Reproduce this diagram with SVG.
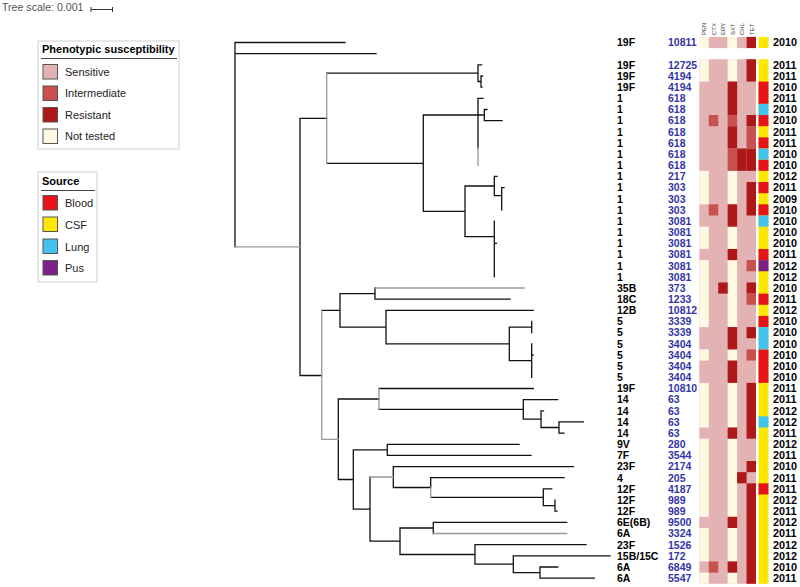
<svg xmlns="http://www.w3.org/2000/svg" width="800" height="587" viewBox="0 0 800 587">
<style>
.sero{font-family:"Liberation Sans",Arial,sans-serif;font-weight:bold;font-size:10.5px;fill:#000}
.st{font-family:"Liberation Sans",Arial,sans-serif;font-weight:bold;font-size:10.5px;fill:#3535a8}
.yr{font-family:"Liberation Sans",Arial,sans-serif;font-weight:bold;font-size:10.8px;fill:#000}
.hdr{font-family:"Liberation Sans",Arial,sans-serif;font-size:6px;fill:#333}
.lt{font-family:"Liberation Sans",Arial,sans-serif;font-weight:bold;font-size:11px;fill:#000}
.li{font-family:"Liberation Sans",Arial,sans-serif;font-size:11px;fill:#222}
.box{fill:#fff;stroke:#cfcfcf;stroke-width:1}
.sw{stroke:#555;stroke-width:1}
.S{fill:#e3b3b3}.I{fill:#c8504f}.R{fill:#af1818}.N{fill:#fff9e3}
.B{fill:#e8121a}.C{fill:#ffe800}.L{fill:#45c3ef}.P{fill:#7b2086}
.blk{fill:none;stroke:#111;stroke-width:1.3;stroke-linecap:square}
.gry{fill:none;stroke:#999;stroke-width:1.3;stroke-linecap:square}
</style>

<g id="tree-scale">
<text x="2" y="11" font-family="Liberation Sans, Arial, sans-serif" font-size="10.6" fill="#555">Tree scale: 0.001</text>
<path d="M91 9.5H112.5M91 7V12M112.5 7V12" fill="none" stroke="#333" stroke-width="1"/>
</g>

<g id="legend-susceptibility">
<rect class="box" x="38" y="41" width="141" height="108"/>
<text class="lt" x="42" y="53">Phenotypic susceptibility</text>
<line x1="41" y1="58.5" x2="177" y2="58.5" stroke="#444" stroke-width="1.2"/>
<rect class="sw S" x="43" y="64.5" width="14.5" height="14.5"/>
<text class="li" x="65" y="75.5">Sensitive</text>
<rect class="sw I" x="43" y="86" width="14.5" height="14.5"/>
<text class="li" x="65" y="97">Intermediate</text>
<rect class="sw R" x="43" y="107.5" width="14.5" height="14.5"/>
<text class="li" x="65" y="118.5">Resistant</text>
<rect class="sw N" x="43" y="129" width="14.5" height="14.5"/>
<text class="li" x="65" y="140">Not tested</text>
</g>

<g id="legend-source">
<rect class="box" x="38" y="172" width="59" height="110"/>
<text class="lt" x="42" y="185">Source</text>
<line x1="41" y1="190.5" x2="95" y2="190.5" stroke="#444" stroke-width="1.2"/>
<rect class="sw B" x="43" y="195.5" width="14.5" height="14.5"/>
<text class="li" x="65" y="207">Blood</text>
<rect class="sw C" x="43" y="217" width="14.5" height="14.5"/>
<text class="li" x="65" y="228.5">CSF</text>
<rect class="sw L" x="43" y="239" width="14.5" height="14.5"/>
<text class="li" x="65" y="250.5">Lung</text>
<rect class="sw P" x="43" y="260.5" width="14.5" height="14.5"/>
<text class="li" x="65" y="272">Pus</text>
</g>

<g id="connectors">
<path class="blk" d="M235 42.5V246.9M235 42.5H345M235 53.7H376
M300 118.3V375.5M300 118.3H326.7M300 375.5H321.7
M326.7 73.2H478M478 64.8V81.5M478 64.8H481.5M478 81.5H481M481 76V87.1M481 76H482.5M481 87.1H482
M326.7 163.4H423.3M423.3 115V211.3M423.3 115H478M478 98.3V148M478 98.3H483M478 115H484.3M484.3 109.5V120.6M484.3 109.5H487M484.3 120.6H502
M423.3 211.3H465M465 186V236.7M465 186H494.3M494.3 176.4V195.7M494.3 176.4H497M494.3 195.7H501.7M501.7 187.6V209.9M501.7 187.6H504
M465 236.7H494.3M494.3 221.1V276.9M494.3 243.4H496.5
M321.7 310.3H340M340 293.6V327.1M340 293.6H375M375 288V299.2M375 299.2H510
M340 327.1H386M386 310.3V343.8M386 310.3H533.3M386 343.8H509.3M509.3 327.1V360.6M509.3 327.1H531.7M531.7 321.5V332.7M509.3 360.6H531.7M531.7 343.8V377.3M531.7 355H533
M338.3 399V479.5M338.3 399H379M379 388.5H533.3M379 409.4H523.3M523.3 399.6V419.2M523.3 399.6H557.7M523.3 419.2H541M541 410.8V427.5M541 410.8H543.5M541 427.5H559M559 421.9V433.1M559 421.9H583.3M559 433.1H564
M338.3 479.5H353.3M353.3 449.9V509.1M353.3 449.9H387.3M387.3 444.3V455.4M387.3 444.3H519M387.3 455.4H531
M353.3 509.1H370M370 477V541.2M393.3 466.6V487.5M393.3 466.6H573.3M393.3 487.5H430.7M430.7 477.7V487.5M430.7 477.7H564M430.7 497.3H543.3M543.3 488.9V505.7M543.3 488.9H551.7M543.3 505.7H555M555 500.1V511.2M555 511.2H557
M370 541.2H400M400 528V554.5M400 528H433.3M433.3 522.4V533.5M433.3 522.4H566.7M400 554.5H475M475 544.7V564.2M475 544.7H586M475 564.2H513.3M513.3 555.9V572.6M513.3 555.9H610M513.3 572.6H540M540 567V578.2M540 567H557.7M540 578.2H594.3"/>
<path class="gry" d="M235 246.9H300M326.7 73.2V163.4M478 148V165.3M321.7 310.3V439.3M321.7 439.3H338.3M375 288H524M379 388.5V409.4M370 477H393.3M430.7 487.5V497.3M433.3 533.5H566.7"/>
</g>

<g id="heatmap-headers">
<text class="hdr" transform="translate(706.3,35) rotate(-90)">PEN</text>
<text class="hdr" transform="translate(715.7,35) rotate(-90)">CTX</text>
<text class="hdr" transform="translate(725.2,35) rotate(-90)">ERY</text>
<text class="hdr" transform="translate(734.6,35) rotate(-90)">SXT</text>
<text class="hdr" transform="translate(744.1,35) rotate(-90)">CHL</text>
<text class="hdr" transform="translate(753.5,35) rotate(-90)">TET</text>
</g>

<g id="heatmap">
<rect class="N" x="699.3" y="36.9" width="9.5" height="11.2"/>
<rect class="S" x="708.75" y="36.9" width="18.9" height="11.2"/>
<rect class="N" x="727.65" y="36.9" width="9.5" height="11.2"/>
<rect class="S" x="737.1" y="36.9" width="9.5" height="11.2"/>
<rect class="R" x="746.55" y="36.9" width="9.45" height="11.2"/>
<rect class="C" x="758.5" y="36.9" width="10" height="11.2"/>
<rect class="S" x="699.3" y="59.24" width="56.7" height="524.52"/>
<rect class="C" x="758.5" y="59.24" width="10" height="524.52"/>
<g class="N">
<rect x="699.3" y="59.24" width="9.5" height="22.32"/><rect x="727.65" y="59.24" width="9.5" height="22.32"/>
<rect x="699.3" y="170.84" width="9.5" height="33.48"/><rect x="727.65" y="170.84" width="9.5" height="33.48"/>
<rect x="699.3" y="226.64" width="9.5" height="22.32"/><rect x="727.65" y="226.64" width="9.5" height="22.32"/>
<rect x="699.3" y="260.12" width="9.5" height="66.96"/><rect x="727.65" y="260.12" width="9.5" height="66.96"/>
<rect x="699.3" y="349.40" width="9.5" height="11.16"/><rect x="727.65" y="349.40" width="9.5" height="11.16"/>
<rect x="699.3" y="382.88" width="9.5" height="44.64"/><rect x="727.65" y="382.88" width="9.5" height="44.64"/>
<rect x="699.3" y="438.68" width="9.5" height="78.12"/><rect x="727.65" y="438.68" width="9.5" height="78.12"/>
<rect x="699.3" y="527.96" width="9.5" height="33.48"/><rect x="727.65" y="527.96" width="9.5" height="33.48"/>
<rect x="699.3" y="572.60" width="9.5" height="11.16"/><rect x="727.65" y="572.60" width="9.5" height="11.16"/>
</g>
<g class="R">
<rect x="727.65" y="81.56" width="9.5" height="33.48"/>
<rect x="727.65" y="126.20" width="9.5" height="22.32"/>
<rect x="727.65" y="204.32" width="9.5" height="22.32"/>
<rect x="727.65" y="248.96" width="9.5" height="11.16"/>
<rect x="727.65" y="327.08" width="9.5" height="22.32"/>
<rect x="727.65" y="360.56" width="9.5" height="22.32"/>
<rect x="727.65" y="427.52" width="9.5" height="11.16"/>
<rect x="727.65" y="516.80" width="9.5" height="11.16"/>
<rect x="727.65" y="561.44" width="9.5" height="11.16"/>
<rect x="718.2" y="282.44" width="9.5" height="11.16"/>
<rect x="737.1" y="148.52" width="9.5" height="22.32"/>
<rect x="737.1" y="472.16" width="9.5" height="11.16"/>
<rect x="746.55" y="59.24" width="9.45" height="22.32"/>
<rect x="746.55" y="115.04" width="9.45" height="11.16"/>
<rect x="746.55" y="148.52" width="9.45" height="22.32"/>
<rect x="746.55" y="182.00" width="9.45" height="33.48"/>
<rect x="746.55" y="282.44" width="9.45" height="11.16"/>
<rect x="746.55" y="327.08" width="9.45" height="11.16"/>
<rect x="746.55" y="382.88" width="9.45" height="55.8"/>
<rect x="746.55" y="461.00" width="9.45" height="11.16"/>
<rect x="746.55" y="483.32" width="9.45" height="100.44"/>
</g>
<g class="I">
<rect x="727.65" y="115.04" width="9.5" height="11.16"/>
<rect x="727.65" y="148.52" width="9.5" height="22.32"/>
<rect x="708.75" y="115.04" width="9.5" height="11.16"/>
<rect x="708.75" y="204.32" width="9.5" height="11.16"/>
<rect x="708.75" y="561.44" width="9.5" height="11.16"/>
<rect x="746.55" y="126.20" width="9.45" height="22.32"/>
<rect x="746.55" y="260.12" width="9.45" height="11.16"/>
<rect x="746.55" y="293.60" width="9.45" height="11.16"/>
<rect x="746.55" y="349.40" width="9.45" height="11.16"/>
</g>
<g class="B">
<rect x="758.5" y="81.56" width="10" height="22.32"/>
<rect x="758.5" y="115.04" width="10" height="11.16"/>
<rect x="758.5" y="137.36" width="10" height="11.16"/>
<rect x="758.5" y="159.68" width="10" height="11.16"/>
<rect x="758.5" y="182.00" width="10" height="11.16"/>
<rect x="758.5" y="204.32" width="10" height="11.16"/>
<rect x="758.5" y="248.96" width="10" height="11.16"/>
<rect x="758.5" y="293.60" width="10" height="11.16"/>
<rect x="758.5" y="315.92" width="10" height="11.16"/>
<rect x="758.5" y="349.40" width="10" height="33.48"/>
<rect x="758.5" y="483.32" width="10" height="11.16"/>
</g>
<g class="L">
<rect x="758.5" y="103.88" width="10" height="11.16"/>
<rect x="758.5" y="148.52" width="10" height="11.16"/>
<rect x="758.5" y="215.48" width="10" height="11.16"/>
<rect x="758.5" y="327.08" width="10" height="22.32"/>
<rect x="758.5" y="416.36" width="10" height="11.16"/>
</g>
<rect class="P" x="758.5" y="260.12" width="10" height="11.16"/>
</g>

<g id="n0"><text class="sero" x="617" y="46.3">19F</text><text class="st" x="668" y="46.3">10811</text><text class="yr" x="773" y="46.3">2010</text></g>
<g id="n1"><text class="sero" x="617" y="68.62">19F</text><text class="st" x="668" y="68.62">12725</text><text class="yr" x="773" y="68.62">2011</text></g>
<g id="n2"><text class="sero" x="617" y="79.78">19F</text><text class="st" x="668" y="79.78">4194</text><text class="yr" x="773" y="79.78">2011</text></g>
<g id="n3"><text class="sero" x="617" y="90.94">19F</text><text class="st" x="668" y="90.94">4194</text><text class="yr" x="773" y="90.94">2010</text></g>
<g id="n4"><text class="sero" x="617" y="102.10">1</text><text class="st" x="668" y="102.10">618</text><text class="yr" x="773" y="102.10">2011</text></g>
<g id="n5"><text class="sero" x="617" y="113.26">1</text><text class="st" x="668" y="113.26">618</text><text class="yr" x="773" y="113.26">2010</text></g>
<g id="n6"><text class="sero" x="617" y="124.42">1</text><text class="st" x="668" y="124.42">618</text><text class="yr" x="773" y="124.42">2010</text></g>
<g id="n7"><text class="sero" x="617" y="135.58">1</text><text class="st" x="668" y="135.58">618</text><text class="yr" x="773" y="135.58">2011</text></g>
<g id="n8"><text class="sero" x="617" y="146.74">1</text><text class="st" x="668" y="146.74">618</text><text class="yr" x="773" y="146.74">2011</text></g>
<g id="n9"><text class="sero" x="617" y="157.90">1</text><text class="st" x="668" y="157.90">618</text><text class="yr" x="773" y="157.90">2010</text></g>
<g id="n10"><text class="sero" x="617" y="169.06">1</text><text class="st" x="668" y="169.06">618</text><text class="yr" x="773" y="169.06">2010</text></g>
<g id="n11"><text class="sero" x="617" y="180.22">1</text><text class="st" x="668" y="180.22">217</text><text class="yr" x="773" y="180.22">2012</text></g>
<g id="n12"><text class="sero" x="617" y="191.38">1</text><text class="st" x="668" y="191.38">303</text><text class="yr" x="773" y="191.38">2011</text></g>
<g id="n13"><text class="sero" x="617" y="202.54">1</text><text class="st" x="668" y="202.54">303</text><text class="yr" x="773" y="202.54">2009</text></g>
<g id="n14"><text class="sero" x="617" y="213.70">1</text><text class="st" x="668" y="213.70">303</text><text class="yr" x="773" y="213.70">2010</text></g>
<g id="n15"><text class="sero" x="617" y="224.86">1</text><text class="st" x="668" y="224.86">3081</text><text class="yr" x="773" y="224.86">2010</text></g>
<g id="n16"><text class="sero" x="617" y="236.02">1</text><text class="st" x="668" y="236.02">3081</text><text class="yr" x="773" y="236.02">2010</text></g>
<g id="n17"><text class="sero" x="617" y="247.18">1</text><text class="st" x="668" y="247.18">3081</text><text class="yr" x="773" y="247.18">2010</text></g>
<g id="n18"><text class="sero" x="617" y="258.34">1</text><text class="st" x="668" y="258.34">3081</text><text class="yr" x="773" y="258.34">2011</text></g>
<g id="n19"><text class="sero" x="617" y="269.50">1</text><text class="st" x="668" y="269.50">3081</text><text class="yr" x="773" y="269.50">2012</text></g>
<g id="n20"><text class="sero" x="617" y="280.66">1</text><text class="st" x="668" y="280.66">3081</text><text class="yr" x="773" y="280.66">2012</text></g>
<g id="n21"><text class="sero" x="617" y="291.82">35B</text><text class="st" x="668" y="291.82">373</text><text class="yr" x="773" y="291.82">2010</text></g>
<g id="n22"><text class="sero" x="617" y="302.98">18C</text><text class="st" x="668" y="302.98">1233</text><text class="yr" x="773" y="302.98">2011</text></g>
<g id="n23"><text class="sero" x="617" y="314.14">12B</text><text class="st" x="668" y="314.14">10812</text><text class="yr" x="773" y="314.14">2012</text></g>
<g id="n24"><text class="sero" x="617" y="325.30">5</text><text class="st" x="668" y="325.30">3339</text><text class="yr" x="773" y="325.30">2010</text></g>
<g id="n25"><text class="sero" x="617" y="336.46">5</text><text class="st" x="668" y="336.46">3339</text><text class="yr" x="773" y="336.46">2010</text></g>
<g id="n26"><text class="sero" x="617" y="347.62">5</text><text class="st" x="668" y="347.62">3404</text><text class="yr" x="773" y="347.62">2010</text></g>
<g id="n27"><text class="sero" x="617" y="358.78">5</text><text class="st" x="668" y="358.78">3404</text><text class="yr" x="773" y="358.78">2010</text></g>
<g id="n28"><text class="sero" x="617" y="369.94">5</text><text class="st" x="668" y="369.94">3404</text><text class="yr" x="773" y="369.94">2010</text></g>
<g id="n29"><text class="sero" x="617" y="381.10">5</text><text class="st" x="668" y="381.10">3404</text><text class="yr" x="773" y="381.10">2010</text></g>
<g id="n30"><text class="sero" x="617" y="392.26">19F</text><text class="st" x="668" y="392.26">10810</text><text class="yr" x="773" y="392.26">2011</text></g>
<g id="n31"><text class="sero" x="617" y="403.42">14</text><text class="st" x="668" y="403.42">63</text><text class="yr" x="773" y="403.42">2011</text></g>
<g id="n32"><text class="sero" x="617" y="414.58">14</text><text class="st" x="668" y="414.58">63</text><text class="yr" x="773" y="414.58">2012</text></g>
<g id="n33"><text class="sero" x="617" y="425.74">14</text><text class="st" x="668" y="425.74">63</text><text class="yr" x="773" y="425.74">2012</text></g>
<g id="n34"><text class="sero" x="617" y="436.90">14</text><text class="st" x="668" y="436.90">63</text><text class="yr" x="773" y="436.90">2011</text></g>
<g id="n35"><text class="sero" x="617" y="448.06">9V</text><text class="st" x="668" y="448.06">280</text><text class="yr" x="773" y="448.06">2012</text></g>
<g id="n36"><text class="sero" x="617" y="459.22">7F</text><text class="st" x="668" y="459.22">3544</text><text class="yr" x="773" y="459.22">2011</text></g>
<g id="n37"><text class="sero" x="617" y="470.38">23F</text><text class="st" x="668" y="470.38">2174</text><text class="yr" x="773" y="470.38">2010</text></g>
<g id="n38"><text class="sero" x="617" y="481.54">4</text><text class="st" x="668" y="481.54">205</text><text class="yr" x="773" y="481.54">2011</text></g>
<g id="n39"><text class="sero" x="617" y="492.70">12F</text><text class="st" x="668" y="492.70">4187</text><text class="yr" x="773" y="492.70">2011</text></g>
<g id="n40"><text class="sero" x="617" y="503.86">12F</text><text class="st" x="668" y="503.86">989</text><text class="yr" x="773" y="503.86">2012</text></g>
<g id="n41"><text class="sero" x="617" y="515.02">12F</text><text class="st" x="668" y="515.02">989</text><text class="yr" x="773" y="515.02">2011</text></g>
<g id="n42"><text class="sero" x="617" y="526.18">6E(6B)</text><text class="st" x="668" y="526.18">9500</text><text class="yr" x="773" y="526.18">2012</text></g>
<g id="n43"><text class="sero" x="617" y="537.34">6A</text><text class="st" x="668" y="537.34">3324</text><text class="yr" x="773" y="537.34">2011</text></g>
<g id="n44"><text class="sero" x="617" y="548.50">23F</text><text class="st" x="668" y="548.50">1526</text><text class="yr" x="773" y="548.50">2012</text></g>
<g id="n45"><text class="sero" x="617" y="559.66">15B/15C</text><text class="st" x="668" y="559.66">172</text><text class="yr" x="773" y="559.66">2012</text></g>
<g id="n46"><text class="sero" x="617" y="570.82">6A</text><text class="st" x="668" y="570.82">6849</text><text class="yr" x="773" y="570.82">2010</text></g>
<g id="n47"><text class="sero" x="617" y="581.98">6A</text><text class="st" x="668" y="581.98">5547</text><text class="yr" x="773" y="581.98">2011</text></g>
</svg>
